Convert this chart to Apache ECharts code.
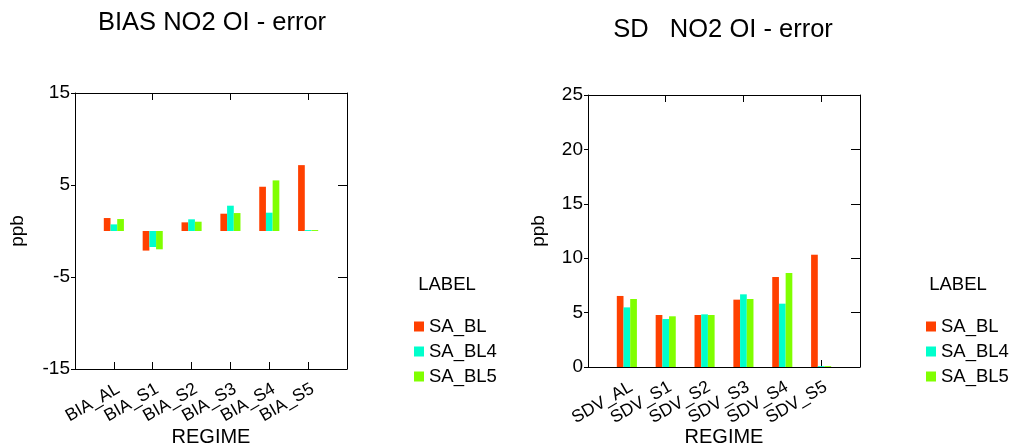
<!DOCTYPE html>
<html><head><meta charset="utf-8">
<script src="https://cdn.jsdelivr.net/npm/echarts@6/dist/echarts.min.js"></script>
<style>html,body{margin:0;padding:0;background:#fff}#c{width:1017px;height:445px}</style>
</head><body><div id="c"></div>
<script>
const biasCategories = ['BIA_AL','BIA_S1','BIA_S2','BIA_S3','BIA_S4','BIA_S5'];
const sdCategories = ['SDV_AL','SDV_S1','SDV_S2','SDV_S3','SDV_S4','SDV_S5'];
const seriesNames = ['SA_BL','SA_BL4','SA_BL5'];
const biasSA_BL  = [1.41,-2.13,0.94,1.88,4.81,7.16];
const biasSA_BL4 = [0.72,-1.74,1.27,2.75,1.99,0.1];
const biasSA_BL5 = [1.30,-1.99,1.01,1.95,5.50,0.1];
const sdSA_BL  = [6.53,4.78,4.78,6.19,8.27,10.32];
const sdSA_BL4 = [5.48,4.41,4.84,6.68,5.82,0.08];
const sdSA_BL5 = [6.25,4.66,4.78,6.25,8.64,0.08];
const biasTicks = [-15,-5,5,15];
const sdTicks = [0,5,10,15,20,25];
const colors = ['#ff4000','#00ffcc','#80ff00'];

const FONT = "'Liberation Sans', Arial, sans-serif";
const pad = a => [null, ...a, null];
const padCat = a => ['', ...a, ''];

function xAxes(grid, cats, gap) {
  return [
    { type:'category', gridIndex:grid, data:padCat(cats), boundaryGap:false, position:'bottom',
      name:'REGIME', nameLocation:'middle', nameGap:gap, nameMoveOverlap:false,
      nameTextStyle:{fontSize:20, color:'#000', fontFamily:FONT},
      axisLine:{onZero:false, lineStyle:{color:'#000', width:1}},
      axisTick:{inside:true, length:7, lineStyle:{color:'#000'}},
      axisLabel:{rotate:30, fontSize:17.5, color:'#000', fontFamily:FONT, margin:11, interval:0, verticalAlign:'top'},
      splitLine:{show:false} },
    { type:'category', gridIndex:grid, data:padCat(cats), boundaryGap:false, position:'top',
      axisLine:{onZero:false, lineStyle:{color:'#000', width:1}},
      axisTick:{inside:true, length:7, lineStyle:{color:'#000'}},
      axisLabel:{show:false}, splitLine:{show:false} }
  ];
}
function yAxes(grid, min, max, ticks, gap) {
  return [
    { type:'value', gridIndex:grid, min:min, max:max, position:'left',
      name:'ppb', nameLocation:'middle', nameGap:gap, nameMoveOverlap:false,
      nameTextStyle:{fontSize:19, color:'#000', fontFamily:FONT},
      axisLine:{show:true, lineStyle:{color:'#000', width:1}},
      axisTick:{show:true, inside:false, length:4, customValues:ticks, lineStyle:{color:'#000'}},
      axisLabel:{fontSize:19, color:'#000', fontFamily:FONT, margin:5, customValues:ticks},
      splitLine:{show:false} },
    { type:'value', gridIndex:grid, min:min, max:max, position:'right',
      axisLine:{show:true, lineStyle:{color:'#000', width:1}},
      axisTick:{show:true, inside:true, length:9, customValues:ticks, lineStyle:{color:'#000'}},
      axisLabel:{show:false}, splitLine:{show:false} }
  ];
}
function bars(xi, yi, arrays) {
  return arrays.map((arr, i) => ({
    type:'bar', name:seriesNames[i], xAxisIndex:xi, yAxisIndex:yi,
    data:pad(arr), barWidth:6.7, barGap:'0%', itemStyle:{color:colors[i]}
  }));
}

const chart = echarts.init(document.getElementById('c'), null, {renderer:'canvas'});
chart.setOption({
  animation:false,
  backgroundColor:'#fff',
  textStyle:{fontFamily:FONT},
  grid:[
    {left:75, top:93, width:272, height:276, outerBoundsMode:'none', containLabel:false},
    {left:588, top:95, width:272, height:272, outerBoundsMode:'none', containLabel:false}
  ],
  xAxis:[...xAxes(0, biasCategories, 58), ...xAxes(1, sdCategories, 60)],
  yAxis:[...yAxes(0, -15, 15, biasTicks, 48), ...yAxes(1, 0, 25, sdTicks, 40)],
  series:[
    ...bars(0, 0, [biasSA_BL, biasSA_BL4, biasSA_BL5]),
    ...bars(2, 2, [sdSA_BL, sdSA_BL4, sdSA_BL5])
  ],
  legend:[
    { data:seriesNames, orient:'vertical', left:409, top:312, itemWidth:10, itemHeight:10, itemGap:6,
      icon:'rect', textStyle:{fontSize:18.5, color:'#000', fontFamily:FONT} },
    { data:seriesNames, orient:'vertical', left:921, top:312, itemWidth:10, itemHeight:10, itemGap:6,
      icon:'rect', textStyle:{fontSize:18.5, color:'#000', fontFamily:FONT} }
  ],
  graphic:[
    {type:'text', x:212, y:23, style:{text:'BIAS NO2 OI - error', fontSize:25.5, fontFamily:FONT, fill:'#000', align:'center', verticalAlign:'middle'}},
    {type:'text', x:723, y:30, style:{text:'SD   NO2 OI - error', fontSize:25.5, fontFamily:FONT, fill:'#000', align:'center', verticalAlign:'middle'}},
    {type:'text', x:447, y:285, style:{text:'LABEL', fontSize:18.5, fontFamily:FONT, fill:'#000', align:'center', verticalAlign:'middle'}},
    {type:'text', x:958, y:285, style:{text:'LABEL', fontSize:18.5, fontFamily:FONT, fill:'#000', align:'center', verticalAlign:'middle'}}
  ]
});
</script></body></html>
